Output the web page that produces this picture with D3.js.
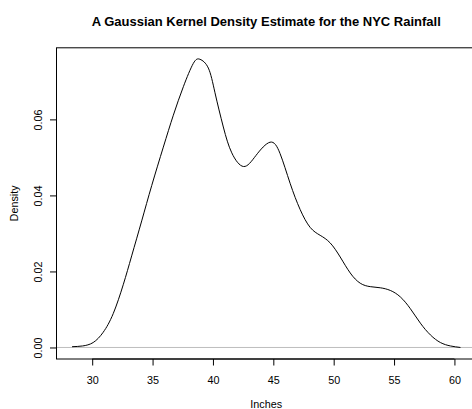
<!DOCTYPE html>
<html>
<head>
<meta charset="utf-8">
<script src="https://cdn.jsdelivr.net/npm/d3@7"></script>
<style>
  html, body { margin: 0; padding: 0; background: #fff; }
  svg { display: block; font-family: "Liberation Sans", Arial, Helvetica, sans-serif; }
</style>
</head>
<body>
<svg id="chart" width="472" height="409"></svg>
<script>
// Annual rainfall (inches) and the estimated density at each point
const inches = [28.33, 29.20, 30.08, 30.91, 31.74, 32.57, 33.27, 34.10, 34.93, 35.89, 36.72,
                37.55, 38.37, 38.93, 39.62, 40.17, 40.86, 41.56, 42.54, 43.56, 44.73,
                45.56, 46.39, 47.22, 48.05, 48.88, 49.71, 50.54, 51.37, 52.20, 53.03,
                53.86, 54.69, 55.52, 56.35, 57.18, 58.01, 58.84, 59.67, 60.50];
const density = [0.0002, 0.0004, 0.0013, 0.0040, 0.0089, 0.0165, 0.0241, 0.0333, 0.0426, 0.0527, 0.0611,
                 0.0686, 0.0747, 0.0758, 0.0735, 0.0670, 0.0580, 0.0512, 0.0476, 0.0505, 0.0540,
                 0.0510, 0.0432, 0.0363, 0.0316, 0.0295, 0.0275, 0.0238, 0.0196, 0.0169, 0.0160,
                 0.0157, 0.0150, 0.0133, 0.0102, 0.0064, 0.0033, 0.0013, 0.0004, 0.0000];

const xTicks = [30, 35, 40, 45, 50, 55, 60];
const yTicks = [0, 0.02, 0.04, 0.06];
const yTickLabels = ["0.00", "0.02", "0.04", "0.06"];

const titleText = "A Gaussian Kernel Density Estimate for the NYC Rainfall";
const xLabel = "Inches";
const yLabel = "Density";

// Plot region in pixels
const plot = { left: 56.5, right: 476, top: 47.8, bottom: 359 };
const axisFont = 10.8;

const svg = d3.select("#chart");
svg.append("rect").attr("width", 472).attr("height", 409).attr("fill", "#fff");

// Data range padded by 4% on each side
const pad = (lo, hi) => { const r = hi - lo; return [lo - 0.04 * r, hi + 0.04 * r]; };
const x = d3.scaleLinear().domain(pad(d3.min(inches), d3.max(inches))).range([plot.left, plot.right]);
const y = d3.scaleLinear().domain(pad(0, d3.max(density))).range([plot.bottom, plot.top]);

// Reference line at zero density
svg.append("line")
  .attr("x1", plot.left).attr("x2", plot.right)
  .attr("y1", y(0)).attr("y2", y(0))
  .attr("stroke", "#bebebe").attr("stroke-width", 1);

// Density curve (smooth spline through the sampled estimates)
const line = d3.line()
  .x((d, i) => x(inches[i]))
  .y(d => y(d))
  .curve(d3.curveNatural);

svg.append("path")
  .datum(density)
  .attr("d", line)
  .attr("fill", "none")
  .attr("stroke", "#000")
  .attr("stroke-width", 1);

// Plot frame
svg.append("rect")
  .attr("x", plot.left).attr("y", plot.top)
  .attr("width", plot.right - plot.left).attr("height", plot.bottom - plot.top)
  .attr("fill", "none").attr("stroke", "#000").attr("stroke-width", 1);

// Bottom axis
const gx = svg.append("g")
  .attr("transform", `translate(0,${plot.bottom})`)
  .call(d3.axisBottom(x).tickValues(xTicks).tickFormat(d3.format("d")).tickSize(6.5).tickSizeOuter(0));
gx.select(".domain").remove();
gx.append("line")
  .attr("x1", x(xTicks[0])).attr("x2", x(xTicks[xTicks.length - 1]))
  .attr("stroke", "#000");
gx.selectAll(".tick line").attr("stroke", "#000");
gx.selectAll(".tick text")
  .attr("y", 24.5).attr("dy", null)
  .attr("fill", "#000")
  .style("font-size", axisFont + "px")
  .style("font-family", "'Liberation Sans', Arial, sans-serif");

// Left axis with rotated labels
const gy = svg.append("g")
  .attr("transform", `translate(${plot.left},0)`)
  .call(d3.axisLeft(y).tickValues(yTicks).tickFormat((d, i) => yTickLabels[i]).tickSize(6.5).tickSizeOuter(0));
gy.select(".domain").remove();
gy.append("line")
  .attr("y1", y(yTicks[0])).attr("y2", y(yTicks[yTicks.length - 1]))
  .attr("stroke", "#000");
gy.selectAll(".tick line").attr("stroke", "#000");
gy.selectAll(".tick text")
  .attr("x", null).attr("dy", null)
  .attr("transform", "translate(-14.8,0) rotate(-90)")
  .attr("text-anchor", "middle")
  .attr("fill", "#000")
  .style("font-size", axisFont + "px")
  .style("font-family", "'Liberation Sans', Arial, sans-serif");

const midX = (plot.left + plot.right) / 2;
const midY = (plot.top + plot.bottom) / 2;

// Title
svg.append("text")
  .attr("x", midX).attr("y", 25.5)
  .attr("text-anchor", "middle")
  .style("font-size", "13px").style("font-weight", "bold")
  .text(titleText);

// Axis titles
svg.append("text")
  .attr("x", midX).attr("y", 408)
  .attr("text-anchor", "middle")
  .style("font-size", axisFont + "px")
  .text(xLabel);

svg.append("text")
  .attr("transform", `translate(18,${midY}) rotate(-90)`)
  .attr("text-anchor", "middle")
  .style("font-size", axisFont + "px")
  .text(yLabel);
</script>
</body>
</html>
